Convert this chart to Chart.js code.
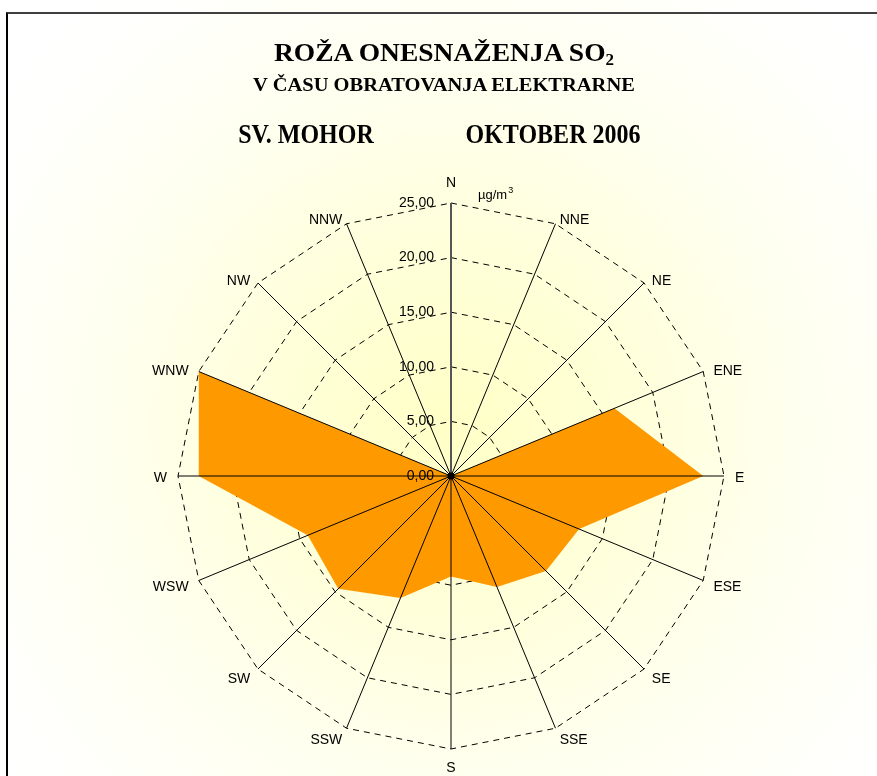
<!DOCTYPE html>
<html>
<head>
<meta charset="utf-8">
<script src="https://cdn.jsdelivr.net/npm/chart.js@4.4.1/dist/chart.umd.min.js"></script>
<style>
  html, body { margin:0; padding:0; background:#fff; }
  #wrap { position:relative; width:877px; height:776px; overflow:hidden; }
  #frame { position:absolute; left:6px; top:12px; width:900px; height:800px;
           border-top:2px solid #404040; border-left:2px solid #000; box-sizing:border-box; pointer-events:none; z-index:3; }
  canvas { position:absolute; left:0; top:0; }
  .t { position:absolute; font-family:"Liberation Serif","Times New Roman",serif; font-weight:bold; color:#000;
       text-align:center; white-space:nowrap; line-height:1; z-index:2; }
  .t sub { font-size:0.62em; vertical-align:baseline; position:relative; top:0.22em; }
</style>
</head>
<body>
<div id="wrap">
  <canvas id="c" width="877" height="776"></canvas>
  <div id="frame"></div>
  <div class="t" style="left:244px; width:400px; top:38px; font-size:27.5px; transform:scaleY(0.92); transform-origin:50% 23px;">ROŽA ONESNAŽENJA SO<sub>2</sub></div>
  <div class="t" style="left:194px; width:500px; top:73.5px; font-size:20.5px; transform:scaleY(0.88); transform-origin:50% 17.2px;">V ČASU OBRATOVANJA ELEKTRARNE</div>
  <div class="t" style="left:156px; width:300px; top:123px; font-size:24px; transform:scaleY(1.1); transform-origin:50% 20px;">SV. MOHOR</div>
  <div class="t" style="left:403px; width:300px; top:123px; font-size:24px; transform:scaleY(1.1); transform-origin:50% 20px;">OKTOBER 2006</div>
</div>
<script>
// ---- data ----
const directions = ['N','NNE','NE','ENE','E','ESE','SE','SSE','S','SSW','SW','WSW','W','WNW','NW','NNW'];
const so2Values  = [0, 0, 0, 16.2, 23.1, 12.7, 12.3, 11.0, 9.2, 12.1, 14.6, 14.2, 23.1, 25.0, 0, 0];
const tickValues = [0, 5, 10, 15, 20, 25];
const tickLabels = ['0,00', '5,00', '10,00', '15,00', '20,00', '25,00'];
const unitLabel = 'µg/m';
const unitSup = '3';

const bgPlugin = {
  id: 'bg',
  beforeDraw(chart) {
    const ctx = chart.ctx;
    ctx.save();
    const g = ctx.createRadialGradient(451, 430, 0, 451, 430, 560);
    g.addColorStop(0, '#FFFFC6');
    g.addColorStop(0.3, '#FFFFD8');
    g.addColorStop(0.6, '#FFFFEE');
    g.addColorStop(0.85, '#FFFFFA');
    g.addColorStop(1, '#FFFFFF');
    ctx.fillStyle = g;
    ctx.fillRect(0, 0, chart.width, chart.height);
    ctx.restore();
  }
};

const overlayPlugin = {
  id: 'overlay',
  afterDatasetsDraw(chart) {
    const s = chart.scales.r;
    const ctx = chart.ctx;
    const cx = s.xCenter, cy = s.yCenter, R = s.drawingArea;
    ctx.save();
    // angle lines over the fill
    for (let i = 0; i < directions.length; i++) {
      const p = s.getPointPosition(i, R);
      ctx.beginPath();
      ctx.moveTo(cx, cy);
      ctx.lineTo(p.x, p.y);
      if (i === 0) { ctx.strokeStyle = '#555'; ctx.lineWidth = 2; }
      else { ctx.strokeStyle = '#000'; ctx.lineWidth = 1; }
      ctx.stroke();
    }
    // centre dot
    ctx.beginPath();
    ctx.arc(cx, cy, 3.5, 0, Math.PI * 2);
    ctx.fillStyle = '#000';
    ctx.fill();
    // tick labels
    ctx.font = '14px "Liberation Sans", Arial, sans-serif';
    ctx.fillStyle = '#000';
    ctx.textAlign = 'right';
    ctx.textBaseline = 'middle';
    tickValues.forEach((v, k) => {
      const y = cy - s.getDistanceFromCenterForValue(v);
      ctx.fillText(tickLabels[k], cx - 17, y);
    });
    // point labels
    ctx.font = '14px "Liberation Sans", Arial, sans-serif';
    for (let i = 0; i < directions.length; i++) {
      const a = s.getIndexAngle(i) - Math.PI / 2;
      const hx = Math.cos(a), vy = Math.sin(a);
      let p;
      ctx.textBaseline = 'middle';
      if (Math.abs(hx) < 0.01) {
        ctx.textAlign = 'center';
        p = s.getPointPosition(i, R + (vy < 0 ? 20 : 19));
        ctx.fillText(directions[i], p.x, p.y);
      } else {
        ctx.textAlign = hx > 0 ? 'left' : 'right';
        p = s.getPointPosition(i, R + 11);
        const dy = vy < 0 ? 2 - vy * 5 : 2;
        ctx.fillText(directions[i], p.x, p.y + dy);
      }
    }
    // unit label
    ctx.textAlign = 'left';
    ctx.textBaseline = 'alphabetic';
    ctx.font = '13px "Liberation Sans", Arial, sans-serif';
    ctx.fillText(unitLabel, cx + 27, cy - 277);
    const w = ctx.measureText(unitLabel).width;
    ctx.font = '9px "Liberation Sans", Arial, sans-serif';
    ctx.fillText(unitSup, cx + 27 + w + 1, cy - 283);
    ctx.restore();
  }
};

new Chart(document.getElementById('c'), {
  type: 'radar',
  data: {
    labels: directions,
    datasets: [{
      data: so2Values,
      backgroundColor: '#FF9900',
      borderWidth: 0,
      borderColor: 'rgba(0,0,0,0)',
      pointRadius: 0,
      fill: true,
      tension: 0
    }]
  },
  options: {
    responsive: false,
    animation: false,
    devicePixelRatio: 1,
    layout: { padding: { left: 178, right: 153, top: 203, bottom: 27 } },
    plugins: { legend: { display: false }, tooltip: { enabled: false } },
    scales: {
      r: {
        min: 0,
        max: 25,
        startAngle: 0,
        ticks: { display: false, stepSize: 5 },
        pointLabels: { display: false },
        angleLines: { display: false },
        grid: { circular: false, color: '#000', lineWidth: 1, borderDash: [6, 5] },
        border: { dash: [6, 5] }
      }
    }
  },
  plugins: [bgPlugin, overlayPlugin]
});
</script>
</body>
</html>
